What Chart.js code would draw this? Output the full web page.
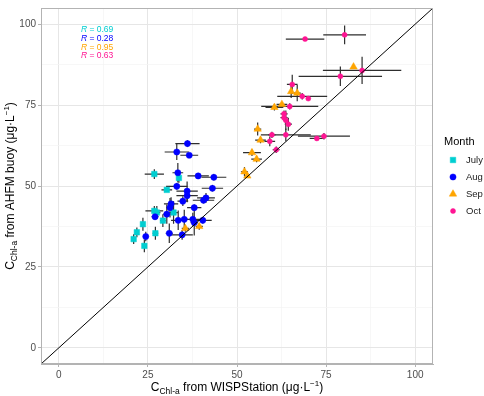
<!DOCTYPE html>
<html>
<head>
<meta charset="utf-8">
<title>Chl-a buoy vs WISPStation</title>
<script src="https://cdn.jsdelivr.net/npm/chart.js"></script>
<style>
  html, body { margin: 0; padding: 0; background: #fff; }
  #wrap { width: 484px; height: 396px; }
</style>
</head>
<body>
<div id="wrap"><canvas id="chlChart" width="484" height="396"></canvas></div>
<script>
// --- data (µg/L) ---
const months = ['July', 'Aug', 'Sep', 'Oct'];
const rValues = ['0.69', '0.28', '0.95', '0.63'];
const axisTicks = [0, 12.5, 25, 37.5, 50, 62.5, 75, 87.5, 100];
const oneToOne = [-5, 105];

const julyX    = [26.8, 33.7, 30.3, 26.8, 27.5, 32.2, 29.2, 23.6, 21.9, 27.1, 21.0, 24.0];
const julyY    = [53.7, 52.5, 48.8, 42.3, 41.8, 41.8, 39.3, 38.2, 35.7, 35.4, 33.6, 31.5];
const julyXErr = [2.7, 0.5, 1.5, 2.5, 1.0, 1.2, 0.8, 0.5, 0.5, 0.8, 0.5, 0.5];
const julyYErr = [1.5, 1.5, 0.5, 1.5, 2.0, 3.5, 2.0, 2.0, 1.5, 2.0, 1.5, 2.0];

const augX    = [36.1, 33.1, 36.6, 33.4, 39.1, 43.5, 33.1, 36.0, 36.0, 43.1, 34.8, 41.3, 40.6,
                 31.5, 31.2, 38.0, 30.3, 27.0, 33.5, 35.2, 37.6, 38.0, 40.4, 31.0, 34.6, 24.4];
const augY    = [63.1, 60.5, 59.5, 54.1, 53.1, 52.7, 49.9, 48.4, 47.0, 49.3, 45.3, 46.3, 45.6,
                 44.5, 43.3, 43.3, 41.3, 40.5, 39.4, 39.7, 39.7, 38.7, 39.4, 35.4, 34.9, 34.4];
const augXErr = [3.4, 3.4, 2.5, 1.5, 3.0, 3.5, 3.0, 3.0, 3.0, 3.0, 1.5, 2.5, 3.0,
                 2.0, 1.0, 2.0, 1.0, 1.0, 2.0, 1.0, 2.0, 1.0, 2.5, 1.0, 3.0, 0.5];
const augYErr = [1.0, 2.5, 0.5, 3.0, 0.5, 1.0, 1.0, 3.0, 2.0, 1.0, 1.5, 1.5, 1.0,
                 2.0, 3.0, 1.0, 3.0, 1.0, 3.0, 3.0, 2.0, 4.0, 1.0, 3.0, 1.5, 1.5];

const sepX    = [82.7, 65.2, 66.9, 62.6, 60.5, 55.8, 56.6, 54.2, 55.5, 52.1, 52.9, 35.5, 39.4];
const sepY    = [86.8, 79.2, 78.7, 75.2, 74.3, 67.6, 64.2, 60.3, 58.3, 54.4, 53.1, 36.9, 37.5];
const sepXErr = [0, 0.5, 1.0, 1.5, 2.5, 1.0, 1.5, 2.5, 1.5, 1.0, 0.5, 1.0, 1.0];
const sepYErr = [0, 2.0, 2.5, 0.5, 1.0, 2.0, 1.0, 1.0, 1.0, 1.5, 0.5, 1.0, 1.0];

const octX    = [69.1, 80.2, 85.1, 79.0, 65.5, 68.3, 70.0, 64.8, 63.2, 63.2, 63.7, 64.4, 59.8,
                 63.7, 74.4, 72.4, 59.2, 61.0];
const octY    = [95.4, 96.7, 85.7, 83.9, 81.4, 77.7, 77.0, 74.6, 72.3, 71.1, 70.3, 69.1, 65.8,
                 65.8, 65.4, 64.7, 63.8, 61.2];
const octXErr = [5.4, 6.0, 11.0, 11.7, 1.5, 7.0, 0.5, 8.0, 1.0, 1.0, 0.5, 1.0, 1.0,
                 7.0, 7.3, 2.0, 1.5, 1.0];
const octYErr = [0.5, 2.9, 4.2, 3.0, 3.0, 1.0, 0.5, 1.0, 1.0, 1.0, 3.0, 2.0, 1.0,
                 2.0, 1.0, 0.5, 1.5, 1.0];

// --- styling ---
const FONT = "'Liberation Sans', Arial, sans-serif";
const styles = [
  { color: '#00CED1', shape: 'rect', r: 3.9 },
  { color: '#0000FF', shape: 'circle', r: 3.1 },
  { color: '#FFA500', shape: 'triangle', r: 4.3 },
  { color: '#FF1493', shape: 'circle', r: 2.5 }
];
const seriesX = [julyX, augX, sepX, octX];
const seriesY = [julyY, augY, sepY, octY];
const seriesXErr = [julyXErr, augXErr, sepXErr, octXErr];
const seriesYErr = [julyYErr, augYErr, sepYErr, octYErr];

const datasets = months.map((m, i) => ({
  label: m,
  data: seriesX[i].map((x, j) => ({ x: x, y: seriesY[i][j] })),
  xErr: seriesXErr[i],
  yErr: seriesYErr[i],
  backgroundColor: styles[i].color,
  borderColor: styles[i].color,
  borderWidth: 0.5,
  pointStyle: styles[i].shape,
  pointRadius: styles[i].r,
  order: 4 - i
}));
// 1:1 line on top
datasets.unshift({
  label: '1:1',
  data: oneToOne.map(v => ({ x: v, y: v })),
  showLine: true,
  borderColor: '#000',
  borderWidth: 1,
  pointRadius: 0,
  order: 0
});

const isMajor = v => v % 25 === 0;

function drawRich(ctx, runs, x, y) {
  let total = 0;
  runs.forEach(r => {
    ctx.font = (r.italic ? 'italic ' : '') + r.size + 'px ' + FONT;
    r.w = ctx.measureText(r.t).width;
    total += r.w;
  });
  let cx = x - total / 2;
  runs.forEach(r => {
    ctx.font = (r.italic ? 'italic ' : '') + r.size + 'px ' + FONT;
    ctx.fillText(r.t, cx, y + (r.dy || 0));
    cx += r.w;
  });
}

function titleRuns(rest) {
  return [
    { t: 'C', size: 12 },
    { t: 'Chl-a', size: 8.5, dy: 3 },
    { t: rest + ' (μg·L', size: 12 },
    { t: '−1', size: 8, dy: -5 },
    { t: ')', size: 12 }
  ];
}

const errorBars = {
  id: 'errorBars',
  beforeDatasetsDraw(chart) {
    const { ctx, chartArea } = chart;
    const xs = chart.scales.x, ys = chart.scales.y;
    ctx.save();
    ctx.beginPath();
    ctx.rect(chartArea.left, chartArea.top, chartArea.width, chartArea.height);
    ctx.clip();
    ctx.strokeStyle = '#2e2e2e';
    ctx.lineWidth = 1.2;
    chart.data.datasets.forEach(ds => {
      if (!ds.xErr) return;
      ds.data.forEach((p, j) => {
        const px = xs.getPixelForValue(p.x), py = ys.getPixelForValue(p.y);
        const xe = ds.xErr[j], ye = ds.yErr[j];
        ctx.beginPath();
        if (xe > 0) {
          ctx.moveTo(xs.getPixelForValue(p.x - xe), py);
          ctx.lineTo(xs.getPixelForValue(p.x + xe), py);
        }
        if (ye > 0) {
          ctx.moveTo(px, ys.getPixelForValue(p.y - ye));
          ctx.lineTo(px, ys.getPixelForValue(p.y + ye));
        }
        ctx.stroke();
      });
    });
    ctx.restore();
  }
};

const decorations = {
  id: 'decorations',
  afterDraw(chart) {
    const { ctx, chartArea } = chart;
    const xs = chart.scales.x;
    ctx.save();
    // panel frame
    ctx.strokeStyle = '#b3b3b3';
    ctx.lineWidth = 1;
    ctx.strokeRect(chartArea.left + 0.5, chartArea.top + 0.5, chartArea.width - 1, chartArea.height - 1);

    // axis titles
    ctx.fillStyle = '#000';
    ctx.textBaseline = 'alphabetic';
    drawRich(ctx, titleRuns(' from WISPStation'), (chartArea.left + chartArea.right) / 2, 391);
    ctx.save();
    ctx.translate(14, (chartArea.top + chartArea.bottom) / 2);
    ctx.rotate(-Math.PI / 2);
    drawRich(ctx, titleRuns(' from AHFM buoy'), 0, 0);
    ctx.restore();

    // R annotations
    const rx = xs.getPixelForValue(6.2);
    ctx.textBaseline = 'middle';
    rValues.forEach((rv, i) => {
      const ry = chartArea.top + 22 + i * 8.7;
      ctx.fillStyle = styles[i].color;
      ctx.font = 'italic 8.5px ' + FONT;
      ctx.fillText('R', rx, ry);
      const w = ctx.measureText('R').width;
      ctx.font = '8.5px ' + FONT;
      ctx.fillText(' = ' + rv, rx + w, ry);
    });

    // legend
    const keyX = 453, textX = 466, firstY = 160, step = 17;
    ctx.fillStyle = '#000';
    ctx.font = '11px ' + FONT;
    ctx.fillText('Month', 444, firstY - 18);
    months.forEach((m, i) => {
      const ky = firstY + i * step;
      ctx.fillStyle = styles[i].color;
      ctx.strokeStyle = styles[i].color;
      ctx.lineWidth = 0.5;
      Chart.helpers.drawPoint(ctx, { pointStyle: styles[i].shape, radius: styles[i].r, rotation: 0, borderWidth: 0.5 }, keyX, ky);
      ctx.fillStyle = '#1a1a1a';
      ctx.font = '9.5px ' + FONT;
      ctx.fillText(m, textX, ky);
    });
    ctx.restore();
  }
};

function axisCfg(fitFn) {
  return {
    type: 'linear',
    min: -5,
    max: 105,
    afterBuildTicks: s => { s.ticks = axisTicks.map(v => ({ value: v })); },
    afterFit: fitFn,
    grid: {
      color: c => (c.tick && isMajor(c.tick.value)) ? '#e6e6e6' : '#f3f3f3',
      lineWidth: c => (c.tick && isMajor(c.tick.value)) ? 1 : 0.7,
      tickColor: c => (c.tick && isMajor(c.tick.value)) ? '#b3b3b3' : 'rgba(0,0,0,0)',
      tickLength: 3
    },
    border: { color: '#b3b3b3', width: 1 },
    ticks: {
      autoSkip: false,
      maxRotation: 0,
      padding: 2,
      color: '#4d4d4d',
      font: { size: 10, family: FONT },
      callback: v => isMajor(v) ? String(v) : ''
    }
  };
}

new Chart(document.getElementById('chlChart').getContext('2d'), {
  type: 'scatter',
  data: { datasets: datasets },
  options: {
    responsive: false,
    devicePixelRatio: 1,
    animation: false,
    layout: { padding: { top: 2, right: 51, left: 0, bottom: 0 } },
    plugins: { legend: { display: false }, tooltip: { enabled: false } },
    scales: {
      x: axisCfg(s => { s.height = 32; }),
      y: axisCfg(s => { s.width = 41; })
    }
  },
  plugins: [errorBars, decorations]
});
</script>
</body>
</html>
